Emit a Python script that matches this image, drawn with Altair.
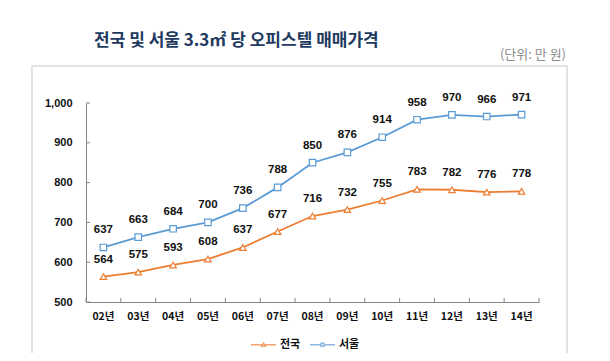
import altair as alt
import pandas as pd

years = ["02년", "03년", "04년", "05년", "06년", "07년", "08년", "09년", "10년", "11년", "12년", "13년", "14년"]
national = [564, 575, 593, 608, 637, 677, 716, 732, 755, 783, 782, 776, 778]
seoul = [637, 663, 684, 700, 736, 788, 850, 876, 914, 958, 970, 966, 971]
series_names = ["전국", "서울"]
colors = ["#ED7D31", "#5B9BD5"]
shapes = ["triangle-up", "square"]
y_ticks = [500, 600, 700, 800, 900, 1000]
title_text = "전국 및 서울 3.3㎡ 당 오피스텔 매매가격"
unit_text = "(단위: 만 원)"

rows = []
for i, yr in enumerate(years):
    rows.append({"year": yr, "series": "전국", "value": national[i]})
    rows.append({"year": yr, "series": "서울", "value": seoul[i]})
df = pd.DataFrame(rows)

W, H = 453, 199
KFONT = "Noto Sans CJK KR"
NFONT = "Liberation Sans"
AXIS_COLOR = "#868686"

xscale = alt.Scale(type="band", domain=years, paddingInner=0, paddingOuter=0)
yscale = alt.Scale(domain=[500, 1000], nice=False, zero=False)
cscale = alt.Scale(domain=series_names, range=colors)

x_axis = alt.Axis(
    title=None, ticks=False, labelAngle=0, labelFont=KFONT, labelFontSize=10.5,
    labelFontWeight="bold", labelColor="#111111", labelPadding=9,
    domainColor=AXIS_COLOR, domainWidth=1, grid=False, zindex=1)
y_axis = alt.Axis(
    title=None, ticks=False, values=y_ticks, format=",.0f", labelFont=NFONT,
    labelFontSize=11, labelFontWeight="bold", labelColor="#111111", labelPadding=14,
    domainColor=AXIS_COLOR, domainWidth=1, grid=False, zindex=1)
x_enc = alt.X("year:N", scale=xscale, axis=x_axis)
y_enc = alt.Y("value:Q", scale=yscale, axis=y_axis)

one = pd.DataFrame({"t": [0]})

box = alt.Chart(one).mark_rect(fill="white", fillOpacity=0, stroke="#D9D9D9", strokeWidth=1.5).encode(
    x=alt.value(-54), x2=alt.value(481), y=alt.value(-37), y2=alt.value(254))

title = alt.Chart(pd.DataFrame({"t": [title_text]})).mark_text(
    font=KFONT, fontSize=17, fontWeight="bold", color="#1F3A60", align="left", baseline="middle"
).encode(text="t:N", x=alt.value(8), y=alt.value(-62))

unit = alt.Chart(pd.DataFrame({"t": [unit_text]})).mark_text(
    font=KFONT, fontSize=13, color="#8C8C8C", align="right", baseline="middle"
).encode(text="t:N", x=alt.value(480), y=alt.value(-48))

series_layers = []
for name, col, shp in zip(series_names, colors, shapes):
    sub = alt.Chart(df).transform_filter(alt.datum.series == name)
    series_layers.append(sub.mark_line(strokeWidth=1.8, color=col).encode(x=x_enc, y=y_enc))
for name, col, shp in zip(series_names, colors, shapes):
    sub = alt.Chart(df).transform_filter(alt.datum.series == name)
    series_layers.append(sub.mark_point(
        shape=shp, filled=False, fill="white", fillOpacity=1, opacity=1,
        size=42, strokeWidth=1.2, stroke=col
    ).encode(x=x_enc, y=y_enc))

labels = alt.Chart(df).mark_text(
    dy=-17, font=NFONT, fontSize=11.5, fontWeight="bold", color="#111111"
).encode(x=x_enc, y=y_enc, text=alt.Text("value:Q"))

xticks = alt.Chart(pd.DataFrame({"year": years})).mark_rule(color=AXIS_COLOR, strokeWidth=1).encode(
    x=alt.X("year:N", scale=xscale, axis=x_axis, bandPosition=0), y=alt.value(H), y2=alt.value(H - 4))
xticks_end = alt.Chart(pd.DataFrame({"year": [years[-1]]})).mark_rule(color=AXIS_COLOR, strokeWidth=1).encode(
    x=alt.X("year:N", scale=xscale, axis=x_axis, bandPosition=1), y=alt.value(H), y2=alt.value(H - 4))
yticks = alt.Chart(pd.DataFrame({"value": y_ticks})).mark_rule(color=AXIS_COLOR, strokeWidth=1).encode(
    y=alt.Y("value:Q", scale=yscale, axis=y_axis), x=alt.value(0), x2=alt.value(4))

tri_path = "M-1,0L-0.14,0M0.14,0L1,0M0,-0.13L0.15,0.11L-0.15,0.11Z"
sq_path = "M-1,0L-0.12,0M0.12,0L1,0M-0.12,-0.12L0.12,-0.12L0.12,0.12L-0.12,0.12Z"
leg = alt.Legend(
    orient="none", legendX=164, legendY=228, direction="horizontal", title=None,
    symbolSize=625, symbolStrokeWidth=1.5, symbolFillColor="white",
    labelFont=KFONT, labelFontSize=11, labelFontWeight="bold", labelColor="#111111",
    labelOffset=3, columnPadding=6)
legend_layer = alt.Chart(df).transform_filter("false").mark_point(filled=False).encode(
    color=alt.Color("series:N", scale=cscale, legend=leg),
    shape=alt.Shape("series:N", scale=alt.Scale(domain=series_names, range=[tri_path, sq_path]), legend=leg))

chart = alt.layer(
    box, title, unit, *series_layers, labels, xticks, xticks_end, yticks, legend_layer
).properties(
    width=W, height=H,
    autosize=alt.AutoSizeParams(type="none"),
    padding={"left": 78, "top": 95, "right": 63, "bottom": 51},
    background="white",
).configure_view(strokeWidth=0)

chart.save("out.html", embed_options={"renderer": "svg", "actions": False})
